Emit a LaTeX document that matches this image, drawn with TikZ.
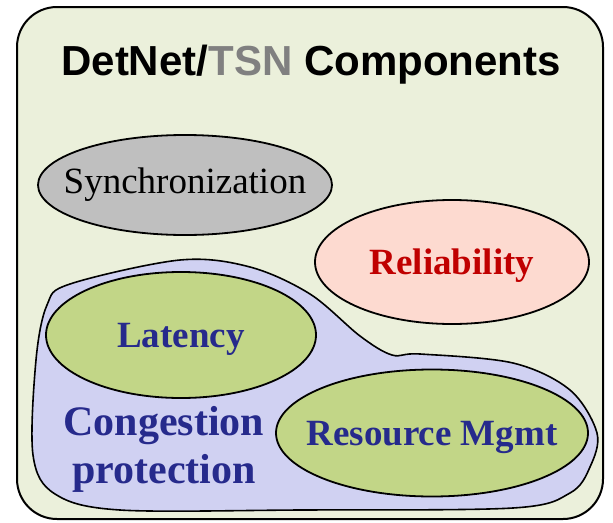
\documentclass[tikz,border=0pt]{standalone}
\usepackage{fontspec}
\setmainfont{Liberation Serif}
\newfontfamily\arialfont{Liberation Sans}
\usepackage{tikz}
\usetikzlibrary{shapes.geometric}
\usetikzlibrary{positioning}
\definecolor{boxgreen}{HTML}{EBF0DB}
\definecolor{syncgray}{HTML}{BFBFBF}
\definecolor{relipink}{HTML}{FDDAD0}
\definecolor{latgreen}{HTML}{C2D687}
\definecolor{congblue}{HTML}{D0D1F2}
\definecolor{textnavy}{HTML}{262A8C}
\definecolor{textred}{HTML}{C00000}
\definecolor{tsngray}{HTML}{808080}

\begin{document}
\begin{tikzpicture}[x=1pt, y=-1pt,
ellipsenode1/.style={ellipse, draw=black, fill=syncgray, line width=1.8pt, inner xsep=-40pt, inner ysep=-10pt},
ellipsenode2/.style={ellipse, draw=black, fill=relipink, line width=1.8pt, inner xsep=-40pt, inner ysep=-10pt, text depth=0pt, text=textred, font=\bfseries\fontsize{37}{40}\selectfont},
ellipsenode3/.style={ellipse, draw=black, fill=latgreen, line width=1.8pt, inner xsep=-40pt, inner ysep=-10pt, text depth=0pt, text=textnavy, font=\bfseries\fontsize{37}{40}\selectfont},
]
\useasboundingbox (0,0) rectangle (613,522);

%Box
\draw[line width=2pt, fill=boxgreen, rounded corners=40pt] (17,7) rectangle (603,519);
\node[anchor=base] (title) at (311,75) {\arialfont\bfseries\fontsize{42}{46}\selectfont DetNet/\textcolor{tsngray}{TSN} Components};

%Congestion area
\draw[line width=1.6pt, fill=congblue] plot[smooth cycle, tension=0.55] coordinates {
(180,260) (250,267) (310,294) (360,336) (392,355) (420,354) (513,363) (570,390) (597,433)
(590,467) (570,493) (513,508) (300,510) (120,510) (55,494) (33,455) (36,360) (47,305) (70,284)};
\node[text=textnavy, align=center, font=\bfseries\fontsize{42}{48}\selectfont] (cong) at (164,449) {Congestion\\protection};

%Nodes
\node[ellipsenode1, minimum width=294pt, minimum height=100pt, font=\fontsize{37}{40}\selectfont] (synch) at (185,185) {Synchronization};
\node[ellipsenode2, minimum width=274pt, minimum height=124pt] (reli) at (452,262) {Reliability};
\node[ellipsenode3, minimum width=270pt, minimum height=126pt] (lat) at (181,335) {Latency};
\node[ellipsenode3, minimum width=312pt, minimum height=127pt] (resmgmt) at (432,433) {Resource Mgmt};
\end{tikzpicture}
\end{document}
